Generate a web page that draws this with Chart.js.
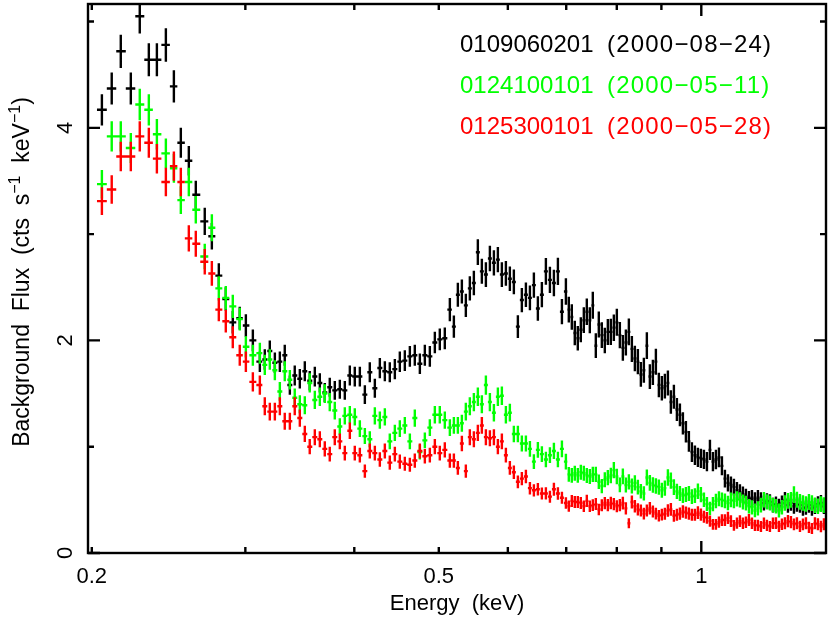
<!DOCTYPE html>
<html>
<head>
<meta charset="utf-8">
<script src="https://cdn.jsdelivr.net/npm/chart.js@4.4.1/dist/chart.umd.min.js"></script>
<style>
    html, body { margin: 0; padding: 0; background: #ffffff; }
    #contenedor { width: 830px; height: 617px; }
</style>
</head>
<body>
<div id="contenedor"><canvas id="chartFondo" width="830" height="617"></canvas></div>
<script>
// --- Datos (energia en keV, flujo en cts/s/keV) ---
const energias = [
    0.2054, 0.2108, 0.2159, 0.2217, 0.2270, 0.2325, 0.2375, 0.2432, 0.2484, 0.2530, 0.2584, 0.2632, 0.2695, 0.2746, 0.2797, 0.2849, 0.2902, 0.2956, 0.3004, 0.3060, 0.3117, 0.3158,
    0.3200, 0.3243, 0.3286, 0.3329, 0.3374, 0.3418, 0.3464, 0.3510, 0.3556, 0.3604, 0.3652, 0.3700, 0.3749, 0.3799, 0.3850, 0.3901, 0.3953, 0.4005, 0.4059, 0.4113,
    0.4167, 0.4223, 0.4279, 0.4336, 0.4393, 0.4452, 0.4511, 0.4571, 0.4632, 0.4693, 0.4756, 0.4819, 0.4883, 0.4948, 0.5013, 0.5080, 0.5148,
    0.5203, 0.5258, 0.5314, 0.5370, 0.5427, 0.5485, 0.5543, 0.5602, 0.5662, 0.5722, 0.5783, 0.5844, 0.5906, 0.5969, 0.6032, 0.6096, 0.6161, 0.6226, 0.6293, 0.6360,
    0.6427, 0.6495, 0.6564, 0.6634, 0.6705, 0.6776, 0.6848, 0.6921, 0.6994,
    0.7048, 0.7104, 0.7160, 0.7217, 0.7275, 0.7333, 0.7391, 0.7450, 0.7509, 0.7569,
    0.7629, 0.7690, 0.7751, 0.7813, 0.7875, 0.7938, 0.8001, 0.8065, 0.8129, 0.8194,
    0.8259, 0.8325, 0.8391, 0.8458, 0.8525, 0.8593, 0.8661, 0.8730, 0.8800, 0.8870,
    0.8940, 0.9011, 0.9083, 0.9156, 0.9228, 0.9302, 0.9376, 0.9451, 0.9526, 0.9602,
    0.9678, 0.9755, 0.9833, 0.9911, 0.9990, 1.0070, 1.0150, 1.0231, 1.0312, 1.0394,
    1.0477, 1.0560, 1.0644, 1.0729, 1.0814, 1.0900, 1.0987, 1.1074, 1.1162, 1.1251,
    1.1341, 1.1431, 1.1522, 1.1613, 1.1706, 1.1799, 1.1893, 1.1987, 1.2083, 1.2179,
    1.2276, 1.2373, 1.2472, 1.2571, 1.2671, 1.2772, 1.2873, 1.2976, 1.3079, 1.3183,
    1.3288, 1.3393, 1.3500, 1.3607, 1.3715, 1.3824
];

// 0109060201 (negro)
const flujoObs0109060201 = [
    4.17, 4.37, 4.72, 4.37, 5.05, 4.64, 4.64, 4.78, 4.39, 3.86, 3.69, 3.37, 3.12, 2.98, 2.61, 2.39, 2.17, 2.21, 2.14, 2.00, 1.80, 1.82,
    1.90, 1.79, 1.80, 1.86, 1.58, 1.67, 1.64, 1.71, 1.62, 1.66, 1.60, 1.51, 1.56, 1.53, 1.54, 1.53, 1.67, 1.66, 1.66, 1.49,
    1.70, 1.55, 1.74, 1.71, 1.70, 1.73, 1.80, 1.81, 1.85, 1.86, 1.78, 1.86, 1.85, 1.98, 2.01, 2.02, 2.29,
    2.13, 2.43, 2.46, 2.33, 2.49, 2.54, 2.83, 2.65, 2.62, 2.77, 2.73, 2.76, 2.62, 2.63, 2.58, 2.55, 2.13, 2.38, 2.43, 2.40,
    2.52, 2.30, 2.43, 2.65, 2.57, 2.54, 2.65, 2.27, 2.46,
    2.29, 2.22, 2.07, 2.02, 2.10, 2.19, 2.27, 2.19, 2.33, 1.95,
    2.15, 2.05, 2.00, 2.08, 2.08, 2.12, 2.17, 2.05, 1.93, 1.98,
    2.08, 1.92, 1.83, 1.80, 1.68, 1.72, 1.95, 1.66, 1.70, 1.80,
    1.58, 1.55, 1.57, 1.60, 1.42, 1.47, 1.35, 1.30, 1.22, 1.14,
    1.05, 0.95, 0.92, 0.90, 0.89, 0.88, 0.86, 0.97, 0.86, 0.88,
    0.90, 0.82, 0.70, 0.66, 0.64, 0.62, 0.59, 0.57, 0.55, 0.53,
    0.51, 0.52, 0.50, 0.52, 0.50, 0.47, 0.49, 0.48, 0.45, 0.46,
    0.44, 0.47, 0.50, 0.45, 0.47, 0.44, 0.46, 0.45, 0.42, 0.43,
    0.45, 0.42, 0.44, 0.46, 0.47, 0.44
];

// 0124100101 (verde)
const flujoObs0124100101 = [
    3.47, 3.92, 3.92, 3.81, 4.22, 4.17, 3.94, 3.76, 3.62, 3.32, 3.49, 3.23, 2.79, 3.06, 2.49, 2.40, 2.32, 2.20, 1.94, 1.86, 1.88, 1.77,
    1.82, 1.72, 1.52, 1.71, 1.63, 1.46, 1.40, 1.39, 1.60, 1.44, 1.47, 1.50, 1.42, 1.34, 1.19, 1.29, 1.30, 1.28, 1.17, 1.10,
    1.07, 1.29, 1.25, 1.28, 1.05, 1.13, 1.17, 1.20, 1.05, 1.27, 0.95, 1.06, 1.18, 1.30, 1.30, 1.25, 1.18,
    1.20, 1.20, 1.22, 1.33, 1.38, 1.42, 1.47, 1.40, 1.58, 1.42, 1.32, 1.47, 1.48, 1.30, 1.32, 1.12, 1.12, 1.03, 1.03, 0.98,
    0.86, 0.97, 0.93, 0.88, 0.92, 0.96, 0.88, 0.98, 0.86,
    0.74, 0.73, 0.75, 0.73, 0.76, 0.75, 0.73, 0.72, 0.74, 0.74,
    0.67, 0.63, 0.69, 0.71, 0.73, 0.78, 0.72, 0.64, 0.72, 0.64,
    0.67, 0.63, 0.66, 0.62, 0.58, 0.56, 0.71, 0.66, 0.64, 0.63,
    0.62, 0.59, 0.61, 0.71, 0.68, 0.62, 0.58, 0.56, 0.54, 0.55,
    0.56, 0.53, 0.54, 0.58, 0.55, 0.50, 0.46, 0.42, 0.46, 0.49,
    0.51, 0.50, 0.49, 0.47, 0.50, 0.49, 0.51, 0.50, 0.48, 0.47,
    0.44, 0.43, 0.40, 0.42, 0.45, 0.50, 0.48, 0.47, 0.45, 0.44,
    0.40, 0.43, 0.47, 0.49, 0.50, 0.55, 0.50, 0.48, 0.47, 0.46,
    0.48, 0.47, 0.45, 0.44, 0.46, 0.45
];

// 0125300101 (rojo)
const flujoObs0125300101 = [
    3.31, 3.42, 3.73, 3.73, 3.92, 3.86, 3.71, 3.49, 3.64, 3.49, 2.96, 2.91, 2.74, 2.63, 2.29, 2.18, 2.03, 1.86, 1.80, 1.61, 1.58, 1.38,
    1.33, 1.33, 1.38, 1.24, 1.24, 1.38, 1.27, 1.12, 1.00, 1.09, 1.07, 0.98, 0.93, 1.09, 1.05, 0.94, 1.15, 0.94, 0.92, 0.77,
    0.96, 0.94, 0.88, 0.96, 0.85, 0.93, 0.86, 0.84, 0.83, 0.87, 0.96, 0.91, 0.92, 1.00, 0.94, 0.97, 0.87,
    0.87, 0.80, 1.03, 0.77, 1.09, 1.07, 1.13, 1.20, 1.09, 1.08, 1.09, 1.00, 1.05, 0.92, 0.80, 0.76, 0.67, 0.70, 0.72, 0.61,
    0.59, 0.60, 0.56, 0.56, 0.53, 0.60, 0.56, 0.52, 0.47,
    0.44, 0.49, 0.48, 0.48, 0.47, 0.44, 0.49, 0.44, 0.45, 0.46,
    0.41, 0.45, 0.47, 0.45, 0.47, 0.46, 0.44, 0.45, 0.47, 0.42,
    0.28, 0.48, 0.44, 0.41, 0.40, 0.37, 0.40, 0.42, 0.39, 0.37,
    0.35, 0.36, 0.37, 0.40, 0.41, 0.35, 0.36, 0.37, 0.39, 0.38,
    0.37, 0.36, 0.36, 0.38, 0.36, 0.34, 0.33, 0.30, 0.27, 0.27,
    0.29, 0.31, 0.31, 0.33, 0.30, 0.26, 0.28, 0.30, 0.28, 0.29,
    0.31, 0.28, 0.26, 0.26, 0.25, 0.28, 0.26, 0.25, 0.28, 0.28,
    0.25, 0.27, 0.28, 0.30, 0.29, 0.27, 0.28, 0.25, 0.27, 0.28,
    0.24, 0.23, 0.28, 0.27, 0.25, 0.27
];

const etiquetasSeries = [
    '0109060201  (2000\u221208\u221224)',
    '0124100101  (2000\u221205\u221211)',
    '0125300101  (2000\u221205\u221228)'
];
const coloresSeries = ['#000000', '#00ff00', '#ff0000'];

// Ticks de los ejes
const ticksXEtiquetas = [0.2, 0.5, 1];
const ticksXMenores = [0.2, 0.3, 0.4, 0.5, 0.6, 0.7, 0.8, 0.9];
const ticksXMayores = [1];
const ticksYEtiquetas = [0, 2, 4];
const ticksYMenores = [1, 3, 5];

// Escala aproximada de las barras de error: err = k(E) * sqrt(flujo)
const errorRefE = [0.2, 0.3, 0.6, 0.9, 1.4];
const errorRefK = [0.072, 0.072, 0.072, 0.092, 0.11];

const fuente = '"Liberation Sans", Arial, Helvetica, sans-serif';

function errorEstimado(e, f) {
    const le = Math.log(e);
    let k = errorRefK[errorRefK.length - 1];
    if (e <= errorRefE[0]) k = errorRefK[0];
    for (let i = 0; i < errorRefE.length - 1; i++) {
        if (e > errorRefE[i] && e <= errorRefE[i + 1]) {
            const t = (le - Math.log(errorRefE[i])) / (Math.log(errorRefE[i + 1]) - Math.log(errorRefE[i]));
            k = errorRefK[i] + t * (errorRefK[i + 1] - errorRefK[i]);
            break;
        }
    }
    return k * Math.sqrt(Math.max(f, 0));
}

// --- Plugin: cruces con barras de error, marco con ticks hacia dentro y textos ---
const pluginEspectro = {
    id: 'pluginEspectro',
    afterDraw(chart) {
        const { ctx, chartArea, scales: { x, y } } = chart;
        const { left, right, top, bottom } = chartArea;
        const pxs = energias.map(e => x.getPixelForValue(e));

        // 1. Cruces de datos
        ctx.save();
        ctx.beginPath();
        ctx.rect(left, top, right - left, bottom - top);
        ctx.clip();
        ctx.lineWidth = 2.4;
        ctx.lineCap = 'butt';
        chart.data.datasets.forEach(ds => {
            ctx.strokeStyle = ds.borderColor;
            ctx.beginPath();
            ds.data.forEach((p, j) => {
                const px = pxs[j];
                const izq = j > 0 ? (px + pxs[j - 1]) / 2 : px - (pxs[1] - pxs[0]) / 2;
                const der = j < pxs.length - 1 ? (px + pxs[j + 1]) / 2 : px + (px - pxs[j - 1]) / 2;
                const err = errorEstimado(p.x, p.y);
                const py = y.getPixelForValue(p.y);
                ctx.moveTo(izq, py);
                ctx.lineTo(der, py);
                ctx.moveTo(px, y.getPixelForValue(p.y + err));
                ctx.lineTo(px, y.getPixelForValue(p.y - err));
            });
            ctx.stroke();
        });
        ctx.restore();

        // 2. Marco y ticks
        ctx.save();
        ctx.strokeStyle = '#000000';
        ctx.lineWidth = 2.4;
        ctx.strokeRect(left, top, right - left, bottom - top);
        ctx.beginPath();
        const tickX = (v, largo) => {
            const px = x.getPixelForValue(v);
            ctx.moveTo(px, bottom); ctx.lineTo(px, bottom - largo);
            ctx.moveTo(px, top); ctx.lineTo(px, top + largo);
        };
        const tickY = (v, largo) => {
            const py = y.getPixelForValue(v);
            ctx.moveTo(left, py); ctx.lineTo(left + largo, py);
            ctx.moveTo(right, py); ctx.lineTo(right - largo, py);
        };
        ticksXMenores.forEach(v => tickX(v, 6));
        ticksXMayores.forEach(v => tickX(v, 12));
        ticksYEtiquetas.forEach(v => tickY(v, 12));
        ticksYMenores.forEach(v => tickY(v, 6));
        ctx.stroke();

        // 3. Etiquetas de ticks
        ctx.fillStyle = '#000000';
        ctx.font = '22px ' + fuente;
        ctx.textAlign = 'center';
        ctx.textBaseline = 'alphabetic';
        ticksXEtiquetas.forEach(v => {
            ctx.fillText(String(v), x.getPixelForValue(v), 583);
        });
        ticksYEtiquetas.forEach(v => {
            ctx.save();
            ctx.translate(72, y.getPixelForValue(v));
            ctx.rotate(-Math.PI / 2);
            ctx.fillText(String(v), 0, 0);
            ctx.restore();
        });

        // 4. Titulos de ejes
        ctx.font = '22px ' + fuente;
        ctx.fillText('Energy  (keV)', (left + right) / 2, 610);

        const partes = [
            { t: 'Background  Flux  (cts  s', sup: false },
            { t: '\u22121', sup: true },
            { t: '  keV', sup: false },
            { t: '\u22121', sup: true },
            { t: ')', sup: false }
        ];
        const fuenteNormal = '23px ' + fuente;
        const fuenteSup = '16px ' + fuente;
        let total = 0;
        partes.forEach(p => {
            ctx.font = p.sup ? fuenteSup : fuenteNormal;
            p.w = ctx.measureText(p.t).width;
            total += p.w;
        });
        ctx.save();
        ctx.translate(29, 272);
        ctx.rotate(-Math.PI / 2);
        ctx.textAlign = 'left';
        let cursor = -total / 2;
        partes.forEach(p => {
            ctx.font = p.sup ? fuenteSup : fuenteNormal;
            ctx.fillText(p.t, cursor, p.sup ? -9 : 0);
            cursor += p.w;
        });
        ctx.restore();

        // 5. Leyenda con el color de cada serie (numero de observacion y fecha)
        ctx.font = '24px ' + fuente;
        ctx.textAlign = 'left';
        const basesLeyenda = [52, 93, 134];
        chart.data.datasets.forEach((ds, i) => {
            const [obs, fecha] = ds.label.split('  ');
            ctx.fillStyle = ds.borderColor;
            ctx.letterSpacing = '0px';
            ctx.fillText(obs, 460, basesLeyenda[i]);
            ctx.letterSpacing = '1.2px';
            ctx.fillText(fecha, 607, basesLeyenda[i]);
        });
        ctx.letterSpacing = '0px';
        ctx.restore();
    }
};

const seriesFlujo = [flujoObs0109060201, flujoObs0124100101, flujoObs0125300101];

new Chart(document.getElementById('chartFondo'), {
    type: 'scatter',
    data: {
        datasets: seriesFlujo.map((serie, i) => ({
            label: etiquetasSeries[i],
            data: energias.map((e, j) => ({ x: e, y: serie[j] })),
            borderColor: coloresSeries[i],
            backgroundColor: coloresSeries[i],
            pointRadius: 0,
            showLine: false
        }))
    },
    options: {
        responsive: false,
        animation: false,
        layout: { padding: { left: 88, right: 4, top: 4, bottom: 64 } },
        plugins: {
            legend: { display: false },
            tooltip: { enabled: false }
        },
        scales: {
            x: { type: 'logarithmic', min: 0.198, max: 1.39, display: false },
            y: { type: 'linear', min: 0, max: 5.165, display: false }
        }
    },
    plugins: [pluginEspectro]
});
</script>
</body>
</html>
